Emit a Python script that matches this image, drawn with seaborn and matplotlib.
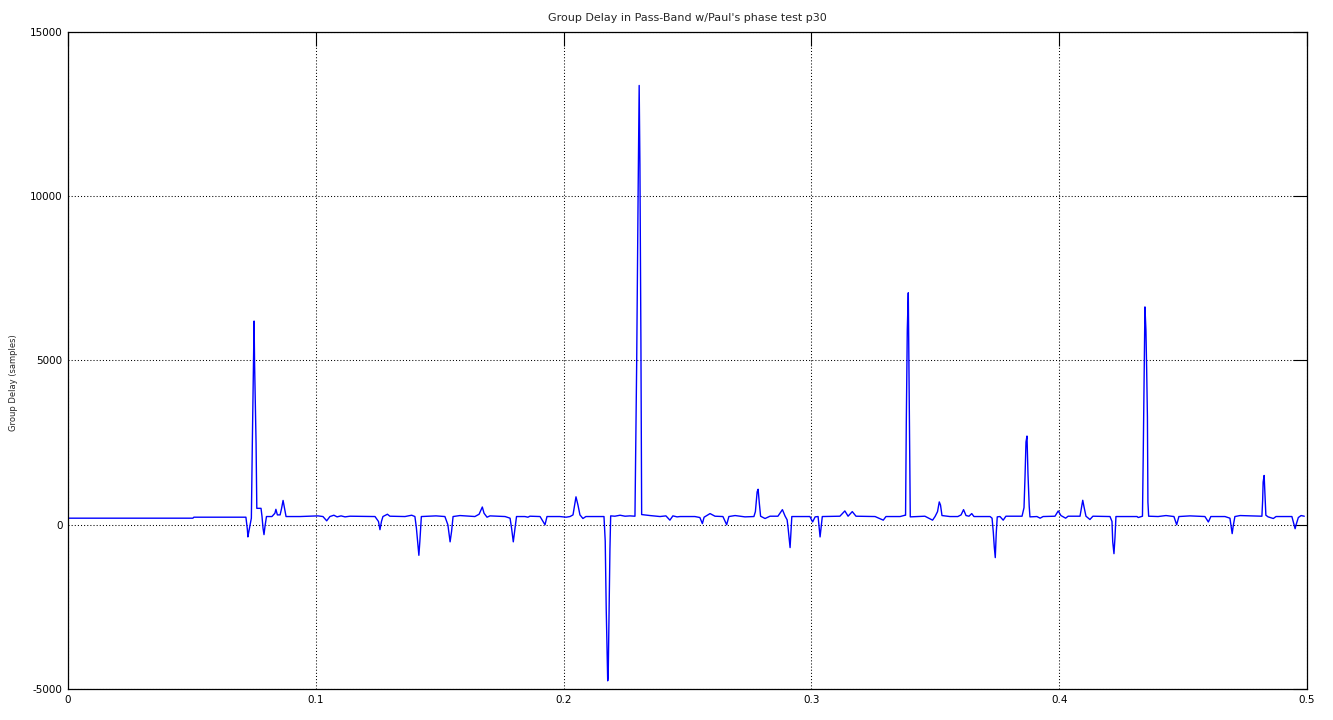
import pandas as pd
import seaborn as sns
import matplotlib.pyplot as plt

# normalised frequency (cycles/sample) and group delay
freq = [
    0.0000, 0.0504, 0.0508, 0.0718, 0.0724, 0.0726, 0.0730, 0.0740, 0.0744, 0.0749,
    0.0751, 0.0753, 0.0759, 0.0762, 0.0779, 0.0783, 0.0787, 0.0791, 0.0795, 0.0801,
    0.0823, 0.0835, 0.0839, 0.0845, 0.0856, 0.0862, 0.0868, 0.0874, 0.0880,
    0.0936, 0.1009, 0.1029, 0.1044, 0.1057, 0.1073, 0.1086, 0.1102, 0.1118, 0.1138,
    0.1239, 0.1253, 0.1259, 0.1265, 0.1271, 0.1289, 0.1299, 0.1360, 0.1387, 0.1400,
    0.1406, 0.1412, 0.1416, 0.1420, 0.1426, 0.1485, 0.1521, 0.1533, 0.1542, 0.1548,
    0.1554, 0.1582, 0.1642, 0.1659, 0.1672, 0.1679, 0.1691, 0.1703, 0.1764, 0.1784,
    0.1790, 0.1797, 0.1804, 0.1810, 0.1844, 0.1856, 0.1864, 0.1905, 0.1925, 0.1933,
    0.1985, 0.2010, 0.2026, 0.2038, 0.2050, 0.2058, 0.2066, 0.2078, 0.2090, 0.2163,
    0.2168, 0.2172, 0.2178, 0.2180, 0.2183, 0.2187, 0.2190, 0.2207, 0.2228, 0.2248,
    0.2268, 0.2288, 0.2295, 0.2301, 0.2305, 0.2308, 0.2312, 0.2315, 0.2349, 0.2389,
    0.2413, 0.2429, 0.2441, 0.2458, 0.2470, 0.2530, 0.2550, 0.2560, 0.2567, 0.2591,
    0.2611, 0.2643, 0.2658, 0.2667, 0.2692, 0.2732, 0.2768, 0.2774, 0.2781, 0.2785,
    0.2790, 0.2795, 0.2813, 0.2833, 0.2865, 0.2883, 0.2894, 0.2902, 0.2906, 0.2914,
    0.2921, 0.2994, 0.3005, 0.3015, 0.3027, 0.3035, 0.3044, 0.3115, 0.3135, 0.3148,
    0.3165, 0.3180, 0.3257, 0.3290, 0.3301, 0.3358, 0.3378, 0.3380, 0.3383, 0.3387,
    0.3391, 0.3393, 0.3396, 0.3399, 0.3458, 0.3489, 0.3499, 0.3509, 0.3516, 0.3521,
    0.3527, 0.3559, 0.3591, 0.3604, 0.3614, 0.3624, 0.3636, 0.3647, 0.3656, 0.3721,
    0.3729, 0.3734, 0.3738, 0.3742, 0.3746, 0.3750, 0.3761, 0.3774, 0.3785, 0.3850,
    0.3858, 0.3862, 0.3866, 0.3870, 0.3874, 0.3879, 0.3882, 0.3910, 0.3923, 0.3935,
    0.3983, 0.3996, 0.4007, 0.4026, 0.4036, 0.4084, 0.4095, 0.4100, 0.4108, 0.4124,
    0.4136, 0.4205, 0.4213, 0.4216, 0.4221, 0.4225, 0.4229, 0.4314, 0.4319, 0.4336,
    0.4339, 0.4346, 0.4350, 0.4353, 0.4356, 0.4358, 0.4361, 0.4399, 0.4431, 0.4463,
    0.4474, 0.4483, 0.4528, 0.4560, 0.4588, 0.4602, 0.4612, 0.4669, 0.4689, 0.4698,
    0.4702, 0.4709, 0.4730, 0.4818, 0.4821, 0.4823, 0.4827, 0.4830, 0.4834, 0.4843,
    0.4864, 0.4875, 0.4939, 0.4952, 0.4956, 0.4965, 0.4976, 0.4989,
]
delay = [
    200, 200, 230, 230, -150, -370, -200, 200, 2520, 5000,
    6200, 4900, 2480, 500, 500, 250, -100, -300, -50, 250,
    250, 350, 470, 300, 300, 500, 740, 500, 250,
    250, 270, 250, 120, 250, 290, 240, 270, 240, 260,
    250, 100, -150, 100, 250, 320, 260, 250, 290, 250,
    -100, -600, -930, -500, 250, 270, 250, 0, -520, -200,
    250, 280, 250, 320, 540, 350, 230, 270, 250, 200,
    -100, -520, -100, 250, 250, 230, 260, 250, 0, 250,
    250, 230, 250, 300, 850, 600, 300, 190, 250, 250,
    -500, -2550, -4750, -4600, -2860, -750, 270, 260, 290, 260,
    270, 260, 4975, 10300, 13370, 10970, 5600, 310, 280, 250,
    270, 140, 270, 240, 250, 250, 220, 35, 230, 340,
    260, 250, 0, 250, 280, 240, 250, 400, 1000, 1080,
    645, 260, 190, 260, 260, 460, 260, 150, -100, -695,
    250, 250, 85, 240, 250, -370, 250, 260, 420, 260,
    400, 260, 250, 140, 250, 250, 290, 290, 3130, 5940,
    7060, 5310, 2520, 240, 260, 140, 250, 400, 695, 600,
    280, 250, 250, 300, 460, 280, 260, 340, 250, 250,
    200, -220, -675, -1000, -250, 240, 250, 140, 260, 260,
    520, 1450, 2520, 2700, 1550, 560, 240, 250, 200, 250,
    260, 420, 280, 200, 260, 260, 745, 550, 260, 160,
    260, 250, 100, -520, -880, -400, 250, 250, 220, 260,
    2060, 6630, 5920, 4700, 3280, 690, 260, 250, 280, 250,
    0, 250, 270, 260, 250, 85, 250, 250, 200, -270,
    -50, 250, 280, 260, 745, 1300, 1500, 950, 290, 240,
    190, 250, 250, -120, 0, 220, 280, 260,
]

xticks = [0, 0.1, 0.2, 0.3, 0.4, 0.5]
xtick_labels = ['0', '0.1', '0.2', '0.3', '0.4', '0.5']
yticks = [-5000, 0, 5000, 10000, 15000]
ytick_labels = ['-5000', '0', '5000', '10000', '15000']

df = pd.DataFrame({'freq': freq, 'delay': delay})

sns.set_style('white')
plt.rcParams['font.family'] = ['DejaVu Sans']

fig = plt.figure(figsize=(13.33, 7.2), dpi=100)
ax = fig.add_axes([0.051, 0.043, 0.9295, 0.9127])

sns.lineplot(data=df, x='freq', y='delay', color='#0000ff', linewidth=1.0,
             estimator=None, sort=False, ax=ax)

ax.set_xlim(0, 0.5)
ax.set_ylim(-5000, 15000)
ax.set_xticks(xticks)
ax.set_xticklabels(xtick_labels)
ax.set_yticks(yticks)
ax.set_yticklabels(ytick_labels)

ax.grid(True, color='black', linestyle=(0, (1, 2)), linewidth=0.75)
ax.tick_params(direction='in', length=10, width=0.8, top=True, right=True,
               labelsize=7.5, colors='black', pad=4)
for s in ax.spines.values():
    s.set_color('black')
    s.set_linewidth(0.9)

ax.set_title("Group Delay in Pass-Band w/Paul's phase test p30", fontsize=8, pad=8)
ax.set_xlabel('')
ax.set_ylabel('Group Delay (samples)', fontsize=6)
ax.yaxis.set_label_coords(-0.040, 0.466)

fig.savefig('out.png', dpi=100)
